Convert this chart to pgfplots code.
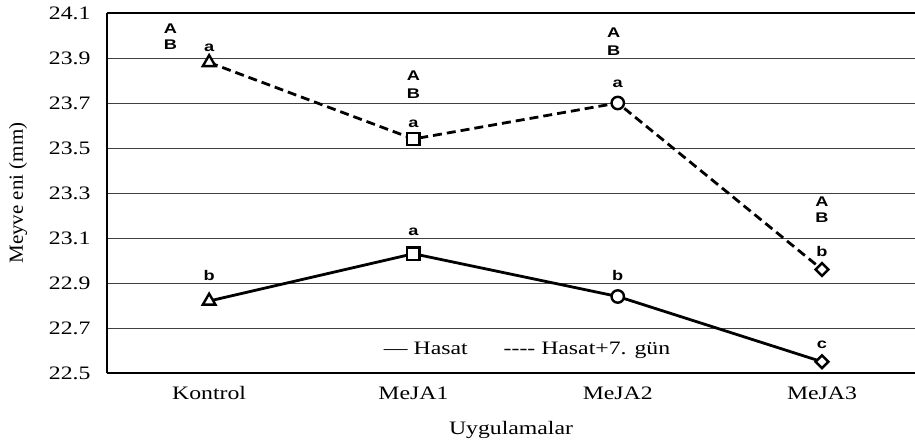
\documentclass[border=0pt]{standalone}
\usepackage{fontspec}
\setmainfont{Liberation Serif}[FakeStretch=1.25]
\newfontfamily\ylfont{Liberation Serif}[FakeStretch=1.05]
\newfontfamily\letfont{Liberation Sans}[FakeStretch=1.3]
\usepackage{pgfplots}
\pgfplotsset{compat=1.18}
\tikzset{lett/.style={anchor=base, inner sep=0pt, font=\letfont\bfseries\fontsize{14}{16}\selectfont}}

\begin{document}
\begin{tikzpicture}
\begin{axis}[
  scale only axis, width=808pt, height=360pt,
  xmin=-0.5, xmax=3.455, ymin=22.5, ymax=24.1,
  axis x line=box, axis y line=left,
  axis line style={-, line width=1.4pt},
  xtick={0,1,2,3}, xticklabels={Kontrol,MeJA1,MeJA2,MeJA3},
  ytick={22.5,22.7,22.9,23.1,23.3,23.5,23.7,23.9,24.1},
  yticklabel style={/pgf/number format/fixed, /pgf/number format/precision=1,
    /pgf/number format/fixed zerofill, anchor=east, xshift=-13pt},
  xticklabel style={anchor=base, yshift=-27pt},
  /pgf/number format/assume math mode=true,
  ymajorgrids, grid style={black!75, line width=0.8pt},
  major tick length=0pt,
  tick label style={font=\fontsize{19}{22}\selectfont},
  xlabel={Uygulamalar},
  xlabel style={at={(axis description cs:0.5,-0.172)}, anchor=base, font=\fontsize{19}{22}\selectfont},
  ylabel={Meyve eni (mm)},
  ylabel style={at={(axis description cs:-0.11,0.5)}, anchor=center, font=\ylfont\fontsize{20}{23}\selectfont},
  clip=false,
]
% lines
\addplot[black, line width=2.8pt, mark=none] coordinates {(0,22.82) (1,23.03) (2,22.84) (3,22.55)};
\addplot[black, line width=2.8pt, dash pattern=on 9pt off 5pt, mark=none] coordinates {(0,23.88) (1,23.54) (2,23.70) (3,22.96)};
% markers
\addplot[only marks, mark=triangle*, mark size=7.3pt, mark options={fill=white, draw=black, line width=2.4pt}] coordinates {(0,22.82) (0,23.88)};
\addplot[only marks, mark=square*, mark size=6.2pt, mark options={fill=white, draw=black, line width=2.4pt}] coordinates {(1,23.03) (1,23.54)};
\addplot[only marks, mark=*, mark size=6.2pt, mark options={fill=white, draw=black, line width=2.4pt}] coordinates {(2,22.84) (2,23.70)};
\addplot[only marks, mark=square*, mark size=4.5pt, mark options={fill=white, draw=black, line width=2.4pt, rotate=45}] coordinates {(3,22.55) (3,22.96)};
% significance letters
\node[lett] at (axis cs:-0.19,24.007) {A};
\node[lett] at (axis cs:-0.19,23.936) {B};
\node[lett] at (axis cs:0,23.927) {a};
\node[lett] at (axis cs:0,22.913) {b};
\node[lett] at (axis cs:1,23.798) {A};
\node[lett] at (axis cs:1,23.718) {B};
\node[lett] at (axis cs:1,23.593) {a};
\node[lett] at (axis cs:1,23.109) {a};
\node[lett] at (axis cs:1.98,23.989) {A};
\node[lett] at (axis cs:1.98,23.913) {B};
\node[lett] at (axis cs:2,23.771) {a};
\node[lett] at (axis cs:2,22.909) {b};
\node[lett] at (axis cs:3,23.238) {A};
\node[lett] at (axis cs:3,23.167) {B};
\node[lett] at (axis cs:3,23.016) {b};
\node[lett] at (axis cs:3,22.611) {c};
% legend text
\node[anchor=base, inner sep=0pt, font=\fontsize{19}{22}\selectfont] at (axis cs:1.556,22.58) {\textemdash\ Hasat\hspace{36pt}-{}-{}-{}- Hasat+7. gün};
\end{axis}
\pgfresetboundingbox
\path[use as bounding box] ([shift={(-107pt,-73pt)}]current axis.south west) rectangle ([shift={(0pt,13pt)}]current axis.north east);
\end{tikzpicture}
\end{document}
